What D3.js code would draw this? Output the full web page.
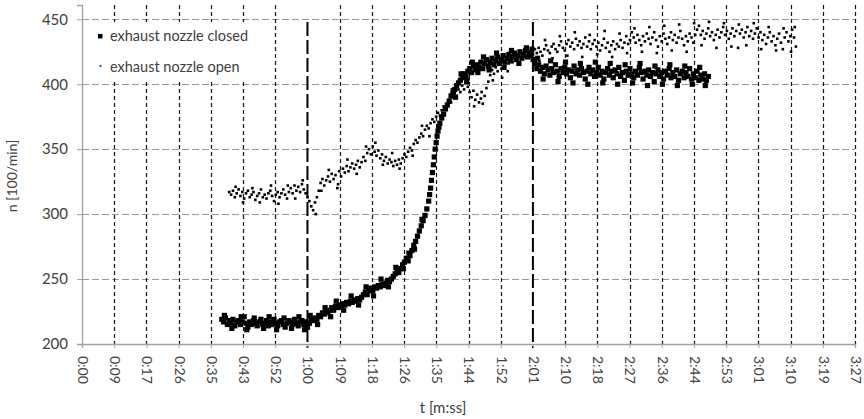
<!DOCTYPE html>
<html>
  <head>
    <meta charset="utf-8">
    <title>Engine speed, exhaust nozzle closed vs open</title>
    <script src="https://cdn.jsdelivr.net/npm/d3@7"></script>
    <style>
      body { margin: 0; background: #fff; }
      svg { display: block; }
    </style>
  </head>
  <body>
    <svg></svg>
    <script>
      // x ticks are every 0.0001 day (8.64 s), as the spreadsheet placed them
      let xTickSeconds = [0, 8.64, 17.28, 25.92, 34.56, 43.2, 51.84, 60.48, 69.12, 77.76, 86.4, 95.04,
                          103.68, 112.32, 120.96, 129.6, 138.24, 146.88, 155.52, 164.16, 172.8, 181.44, 190.08, 198.72, 207.36];
      let xTickLabels = ["0:00", "0:09", "0:17", "0:26", "0:35", "0:43", "0:52", "1:00", "1:09", "1:18", "1:26", "1:35",
                         "1:44", "1:52", "2:01", "2:10", "2:18", "2:27", "2:36", "2:44", "2:53", "3:01", "3:10", "3:19", "3:27"];
      let yTicks = [200, 250, 300, 350, 400, 450];
      let markerLines = [60.48, 120.96];

      let seriesNames = ["exhaust nozzle closed", "exhaust nozzle open"];

      // [t in seconds, n in 100/min]
      let closedData = [
        [37.5,219],[38,217],[38.5,220],[39,215],[39.5,218],[40,216],[40.5,219],[41,214],[41.5,217],[42,218],
        [42.5,215],[43,217],[43.5,221],[44,216],[44.5,213],[45,217],[45.5,215],[46,218],[46.5,216],[47,214],
        [47.5,217],[48,219],[48.5,215],[49,216],[49.5,218],[50,214],[50.5,217],[51,215],[51.5,219],[52,216],
        [52.5,214],[53,217],[53.5,218],[54,215],[54.5,213],[55,216],[55.5,218],[56,217],[56.5,215],[57,219],
        [57.5,216],[58,214],[58.5,217],[59,218],[59.5,215],[60,217],[60.5,213],[61,216],[61.5,219],[62,218],
        [62.5,220],[63,219],[63.5,222],[64,221],[64.5,224],[65,223],[65.5,225],[66,224],[66.5,226],[67,228],
        [67.5,226],[68,229],[68.5,228],[69,230],[69.5,229],[70,231],[70.5,230],[71,232],[71.5,231],[72,233],
        [72.5,232],[73,234],[73.5,233],[74,235],[74.5,234],[75,236],[75.5,238],[76,240],[76.5,238],[77,241],
        [77.5,243],[78,241],[78.5,244],[79,243],[79.5,245],[80,244],[80.5,246],[81,245],[81.5,247],[82,249],
        [82.5,248],[83,250],[83.5,252],[84,254],[84.5,256],[85,255],[85.5,258],[86,261],[86.5,263],[87,266],
        [87.5,264],[88,268],[88.5,272],[89,276],[89.5,279],[90,283],[90.5,287],[91,291],[91.5,295],[92,299],
        [92.5,304],[93,310],[93.25,315],[93.5,320],[93.75,326],[94,332],[94.25,338],[94.5,344],[94.75,350],[95,355],
        [95.25,360],[95.5,364],[95.75,367],[96,370],[96.5,374],[97,377],[97.5,381],[98,384],[98.5,387],[99,391],
        [99.5,393],[100,396],[100.5,399],[101,401],[101.5,403],[102,405],[102.5,408],[103,406],[103.5,410],[104,412],
        [104.5,409],[105,414],[105.5,411],[106,415],[106.5,413],[107,417],[107.5,412],[108,416],[108.5,419],[109,414],
        [109.5,417],[110,420],[110.5,415],[111,418],[111.5,421],[112,416],[112.5,419],[113,422],[113.5,417],[114,420],
        [114.5,423],[115,418],[115.5,421],[116,424],[116.5,419],[117,422],[117.5,425],[118,420],[118.5,423],[119,426],
        [119.5,421],[120,424],[120.5,422],[121,419],[121.5,416],[122,412],[122.5,415],[123,410],[123.5,413],[124,408],
        [124.5,414],[125,411],[125.5,407],[126,412],[126.5,409],[127,415],[127.5,410],[128,406],[128.5,412],[129,409],
        [129.5,413],[130,408],[130.5,411],[131,405],[131.5,410],[132,414],[132.5,408],[133,411],[133.5,407],[134,412],
        [134.5,409],[135,404],[135.5,410],[136,413],[136.5,408],[137,411],[137.5,406],[138,409],[138.5,413],[139,407],
        [139.5,410],[140,404],[140.5,409],[141,412],[141.5,407],[142,410],[142.5,405],[143,411],[143.5,408],[144,413],
        [144.5,406],[145,409],[145.5,403],[146,410],[146.5,407],[147,412],[147.5,408],[148,405],[148.5,410],[149,407],
        [149.5,413],[150,409],[150.5,404],[151,410],[151.5,407],[152,411],[152.5,406],[153,409],[153.5,402],[154,408],
        [154.5,411],[155,406],[155.5,409],[156,404],[156.5,410],[157,407],[157.5,412],[158,405],[158.5,409],[159,406],
        [159.5,411],[160,403],[160.5,408],[161,410],[161.5,405],[162,409],[162.5,406],[163,412],[163.5,404],[164,408],
        [164.5,405],[165,410],[165.5,403],[166,407],[166.5,404],[167,408],[167.5,403],[168,406]
      ];

      // scattered samples at the edges of the closed-nozzle band
      let closedOutliers = [
        [38.2,222],[40.2,212],[42.7,221],[44.2,211],[46.2,220],[48.7,212],[50.2,221],[52.2,211],[54.2,220],[56.2,212],
        [58.2,221],[59.7,211],[61.2,222],[63.2,215],[65.2,228],[66.7,221],[68.2,233],[70.2,226],[72.2,237],[74.2,230],
        [76.2,244],[78.2,237],[80.2,250],[82.2,244],[84.2,259],[86.2,258],[87.7,270],[89.2,273],[91.2,296],[100.2,390],
        [101.7,408],[103.2,402],[104.7,417],[106.2,409],[107.7,421],[109.2,411],[111.2,424],[113.2,413],[115.2,426],[117.2,416],
        [119.2,428],[120.7,427],[122.2,420],[123.7,404],[125.7,418],[127.7,402],[129.7,417],[131.7,401],[133.7,416],[135.7,400],
        [137.7,417],[139.7,401],[141.7,416],[143.7,400],[145.7,415],[147.7,401],[149.7,416],[151.7,399],[153.7,414],[155.7,400],
        [157.7,415],[159.7,399],[161.7,414],[163.7,400],[165.7,413],[167.2,399]
      ];

      let openData = [
        [39.5,317],[40,315],[40.5,318],[41,313],[41.5,316],[42,319],[42.5,314],[43,317],[43.5,312],[44,316],
        [44.5,318],[45,313],[45.5,315],[46,317],[46.5,311],[47,314],[47.5,316],[48,319],[48.5,313],[49,315],
        [49.5,312],[50,316],[50.5,318],[51,314],[51.5,310],[52,315],[52.5,317],[53,313],[53.5,316],[54,319],
        [54.5,315],[55,312],[55.5,317],[56,320],[56.5,316],[57,322],[57.5,318],[58,321],[58.5,317],[59,323],
        [59.5,319],[60,316],[60.5,313],[61,310],[61.5,306],[62,303],[62.5,309],[63,313],[63.5,318],[64,324],
        [64.5,327],[65,322],[65.5,326],[66,329],[66.5,325],[67,331],[67.5,327],[68,330],[68.5,320],[69,333],
        [69.5,329],[70,335],[70.5,332],[71,337],[71.5,333],[72,336],[72.5,339],[73,335],[73.5,338],[74,341],
        [74.5,336],[75,340],[75.5,344],[76,341],[76.5,347],[77,350],[77.5,346],[78,352],[78.5,348],[79,345],
        [79.5,349],[80,343],[80.5,346],[81,341],[81.5,344],[82,339],[82.5,342],[83,340],[83.5,337],[84,341],
        [84.5,338],[85,342],[85.5,339],[86,343],[86.5,346],[87,344],[87.5,348],[88,351],[88.5,349],[89,354],
        [89.5,357],[90,355],[90.5,359],[91,362],[91.5,360],[92,365],[92.5,368],[93,366],[93.5,370],[94,373],
        [94.5,371],[95,375],[95.5,378],[96,376],[96.5,380],[97,383],[97.5,381],[98,385],[98.5,388],[99,386],
        [99.5,390],[100,393],[100.5,391],[101,396],[101.5,394],[102,399],[102.5,396],[103,401],[103.5,398],[104,394],
        [104.5,390],[105,395],[105.5,388],[106,392],[106.5,386],[107,389],[107.5,385],[108,391],[108.5,397],[109,402],
        [109.5,407],[110,411],[110.5,408],[111,413],[111.5,410],[112,415],[112.5,412],[113,417],[113.5,414],[114,419],
        [114.5,416],[115,420],[115.5,417],[116,422],[116.5,419],[117,421],[117.5,424],[118,420],[118.5,423],[119,421],
        [119.5,425],[120,422],[120.5,426],[121,423],[121.5,427],[122,424],[122.5,428],[123,425],[123.5,422],[124,427],
        [124.5,430],[125,426],[125.5,424],[126,429],[126.5,431],[127,427],[127.5,425],[128,430],[128.5,433],[129,428],
        [129.5,426],[130,431],[130.5,434],[131,429],[131.5,432],[132,427],[132.5,435],[133,430],[133.5,433],[134,428],
        [134.5,431],[135,436],[135.5,429],[136,433],[136.5,427],[137,431],[137.5,434],[138,429],[138.5,432],[139,426],
        [139.5,430],[140,435],[140.5,428],[141,432],[141.5,425],[142,430],[142.5,433],[143,427],[143.5,431],[144,429],
        [144.5,434],[145,428],[145.5,432],[146,437],[146.5,431],[147,434],[147.5,440],[148,436],[148.5,432],[149,438],
        [149.5,434],[150,430],[150.5,437],[151,433],[151.5,439],[152,435],[152.5,431],[153,436],[153.5,440],[154,434],
        [154.5,429],[155,437],[155.5,433],[156,439],[156.5,435],[157,431],[157.5,436],[158,440],[158.5,434],[159,438],
        [159.5,432],[160,436],[160.5,441],[161,435],[161.5,430],[162,437],[162.5,433],[163,439],[163.5,436],[164,432],
        [164.5,438],[165,442],[165.5,445],[166,438],[166.5,441],[167,435],[167.5,439],[168,443],[168.5,437],[169,440],
        [169.5,434],[170,438],[170.5,442],[171,436],[171.5,440],[172,444],[172.5,438],[173,441],[173.5,435],[174,439],
        [174.5,443],[175,437],[175.5,441],[176,428],[176.5,439],[177,442],[177.5,436],[178,440],[178.5,444],[179,437],
        [179.5,441],[180,435],[180.5,439],[181,443],[181.5,436],[182,440],[182.5,434],[183,438],[183.5,431],[184,436],
        [184.5,440],[185,433],[185.5,437],[186,430],[186.5,435],[187,439],[187.5,432],[188,427],[188.5,436],[189,440],
        [189.5,433],[190,437],[190.5,442],[191,436],[191.5,429]
      ];

      let openOutliers = [
        [41.2,321],[43.2,309],[45.7,320],[47.7,309],[50.7,322],[52.7,308],[55.2,322],[57.2,312],[59.2,326],[62.7,300],
        [64.2,318],[66.2,334],[68.7,323],[71.2,342],[73.7,331],[76.2,352],[78.7,355],[80.7,338],[83.2,347],[85.2,335],
        [88.7,345],[91.2,368],[93.2,360],[96.2,370],[99.2,396],[103.7,404],[105.2,383],[107.2,394],[110.2,403],[112.7,405],
        [114.2,410],[122.7,418],[124.2,434],[126.2,420],[128.2,437],[130.2,422],[132.2,440],[134.2,421],[136.2,438],[138.2,423],
        [140.2,441],[142.2,421],[144.2,439],[146.2,424],[148.2,443],[150.2,425],[152.2,444],[154.2,424],[156.2,445],[158.2,426],
        [160.2,446],[162.2,425],[164.2,447],[166.2,430],[168.2,448],[170.2,428],[172.2,447],[174.2,429],[176.2,446],[178.2,430],
        [180.2,447],[182.2,427],[184.2,444],[186.2,426],[188.2,443],[190.2,425],[191.2,444]
      ];

      let w = 864, h = 419;
      let margin = {top: 5, right: 9, bottom: 75, left: 82};
      let fontFamily = "Lato, 'Open Sans', sans-serif";
      let textColor = "#404040";
      let axisColor = "#a0a0a0";

      let svg = d3.select("svg")
                  .attr("width", w)
                  .attr("height", h)
                  .attr("font-family", fontFamily);

      let x = d3.scaleLinear()
                .domain([0, 207.36])
                .range([margin.left, w - margin.right]);

      let y = d3.scaleLinear()
                .domain([200, 461])
                .range([h - margin.bottom, margin.top]);

      let plotBottom = h - margin.bottom;

      //horizontal grid, grey dashes
      svg.append("g")
         .selectAll("line")
         .data(yTicks.filter(d => d > 200))
         .enter()
         .append("line")
         .attr("x1", margin.left)
         .attr("x2", x(207.36))
         .attr("y1", d => Math.round(y(d)) + 0.5)
         .attr("y2", d => Math.round(y(d)) + 0.5)
         .attr("stroke", "#999")
         .attr("stroke-width", 1.2)
         .attr("stroke-dasharray", "7,3");

      //vertical grid, black short dashes
      svg.append("g")
         .selectAll("line")
         .data(xTickSeconds.slice(1).filter(d => !markerLines.includes(d)))
         .enter()
         .append("line")
         .attr("x1", d => Math.round(x(d)) + 0.5)
         .attr("x2", d => Math.round(x(d)) + 0.5)
         .attr("y1", margin.top)
         .attr("y2", plotBottom)
         .attr("stroke", "#111")
         .attr("stroke-width", 1.2)
         .attr("stroke-dasharray", "4,3");

      //legend box sits over the grid
      let legend = svg.append("g");
      legend.append("rect")
            .attr("x", 84)
            .attr("y", 22)
            .attr("width", 184)
            .attr("height", 59)
            .attr("fill", "#fff");

      //event markers at 1:00 and 2:01
      svg.append("g")
         .selectAll("line")
         .data(markerLines)
         .enter()
         .append("line")
         .attr("x1", d => x(d))
         .attr("x2", d => x(d))
         .attr("y1", 22)
         .attr("y2", plotBottom + 4)
         .attr("stroke", "#000")
         .attr("stroke-width", 2)
         .attr("stroke-dasharray", "14,4");

      //axes
      let xAxis = d3.axisBottom(x)
                    .tickValues(xTickSeconds)
                    .tickSize(4)
                    .tickFormat((d, i) => xTickLabels[i]);

      let gx = svg.append("g")
                  .attr("transform", "translate(0," + plotBottom + ")")
                  .call(xAxis);
      gx.select(".domain").attr("stroke", axisColor).attr("stroke-width", 1.3);
      gx.selectAll(".tick line").attr("stroke", axisColor);
      gx.selectAll(".tick text")
        .attr("fill", textColor)
        .attr("font-size", 14)
        .attr("font-family", fontFamily)
        .attr("text-anchor", "start")
        .attr("transform", "translate(0,12) rotate(90)")
        .attr("x", 0)
        .attr("y", 0)
        .attr("dy", "0.33em");

      let yAxis = d3.axisLeft(y)
                    .tickValues(yTicks)
                    .tickSize(5)
                    .tickPadding(9);

      let gy = svg.append("g")
                  .attr("transform", "translate(" + margin.left + ",0)")
                  .call(yAxis);
      gy.select(".domain").attr("stroke", axisColor).attr("stroke-width", 1.3);
      gy.selectAll(".tick line").attr("stroke", axisColor);
      gy.selectAll(".tick text")
        .attr("fill", textColor)
        .attr("font-size", 15)
        .attr("font-family", fontFamily);

      //axis titles
      svg.append("text")
         .attr("x", 443)
         .attr("y", 413)
         .attr("text-anchor", "middle")
         .attr("font-size", 15)
         .attr("fill", textColor)
         .text("t [m:ss]");

      svg.append("text")
         .attr("transform", "translate(17,176) rotate(-90)")
         .attr("text-anchor", "middle")
         .attr("font-size", 14)
         .attr("fill", textColor)
         .text("n [100/min]");

      //open nozzle: small dots
      svg.append("g")
         .selectAll("rect")
         .data(openData.concat(openOutliers))
         .enter()
         .append("rect")
         .attr("x", d => x(d[0]) - 1.3)
         .attr("y", d => y(d[1]) - 1.3)
         .attr("width", 2.6)
         .attr("height", 2.6)
         .attr("fill", "#000");

      //closed nozzle: heavy squares
      svg.append("g")
         .selectAll("rect")
         .data(closedData.concat(closedOutliers))
         .enter()
         .append("rect")
         .attr("x", d => x(d[0]) - 2.6)
         .attr("y", d => y(d[1]) - 2.6)
         .attr("width", 5.2)
         .attr("height", 5.2)
         .attr("fill", "#000");

      //legend entries
      legend.append("rect")
            .attr("x", 98)
            .attr("y", 34)
            .attr("width", 4.5)
            .attr("height", 4.5)
            .attr("fill", "#000");
      legend.append("rect")
            .attr("x", 99.5)
            .attr("y", 65)
            .attr("width", 2)
            .attr("height", 2)
            .attr("fill", "#555");

      legend.selectAll("text")
            .data(seriesNames)
            .enter()
            .append("text")
            .attr("x", 110)
            .attr("y", (d, i) => 41 + i * 31)
            .attr("font-size", 14.5)
            .attr("fill", textColor)
            .text(d => d);
    </script>
  </body>
</html>
